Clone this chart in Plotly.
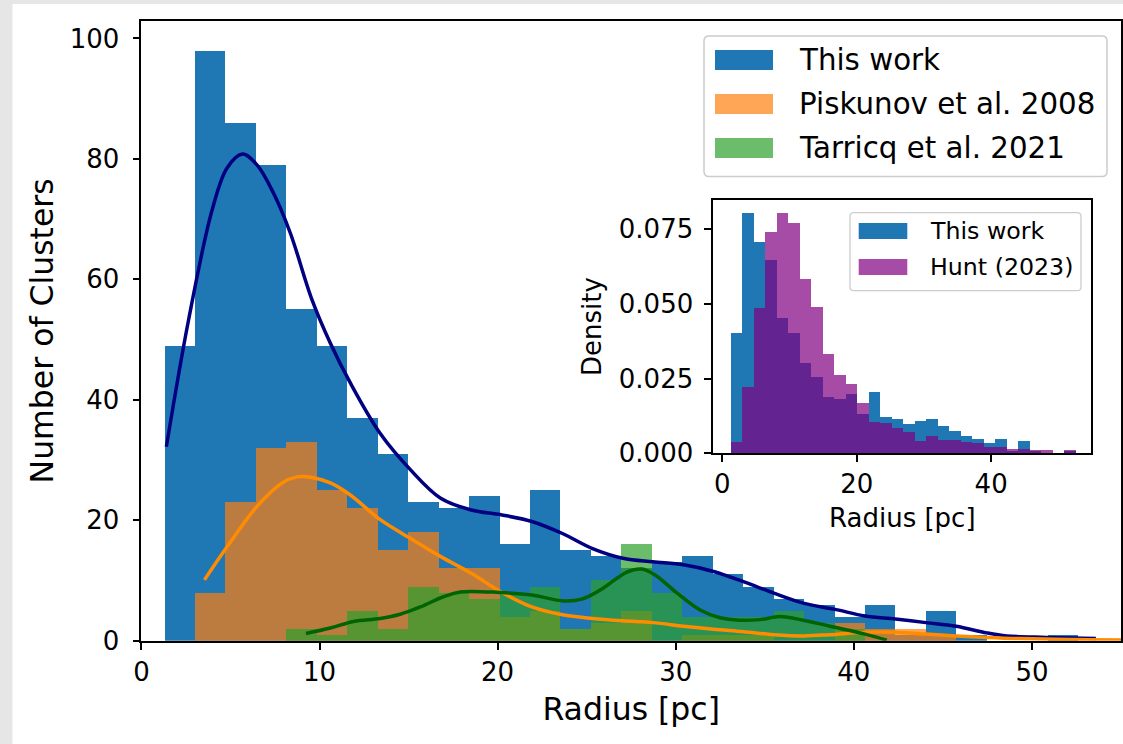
import numpy as np
import plotly.graph_objects as go

W, H = 1123, 744

# ---------------- data ----------------
bin_start = 1.32
bin_width = 1.71
n_bins = 30

this_work_counts = [49, 98, 86, 79, 55, 49, 37, 31, 23, 22, 24, 16, 25, 15, 14,
                    12, 13, 14, 11, 9, 7, 6, 4, 6, 1, 5, 1, 0, 0, 1]
piskunov_counts = [0, 8, 23, 32, 33, 25, 22, 15, 18, 12, 12, 4, 5, 2, 3,
                   5, 0, 1, 1, 1, 0, 0, 3, 2, 2, 1, 0, 0, 0, 0]
tarricq_counts = [0, 0, 0, 0, 2, 1, 5, 2, 9, 8, 7, 8, 9, 2, 10,
                  16, 8, 4, 4, 4, 5, 3, 2, 0, 0, 0, 0, 0, 0, 0]
hunt_density = [0.0037, 0.0221, 0.0487, 0.0739, 0.0802, 0.0769, 0.0583, 0.0488,
                0.0333, 0.0262, 0.0231, 0.0167, 0.0106, 0.0103, 0.0086, 0.0070,
                0.0042, 0.0058, 0.0045, 0.0045, 0.0038, 0.0036, 0.0020, 0.0020,
                0.0013, 0.0013, 0.0011, 0.0011, 0.0002, 0.0011]

kde_this_x = [1.40, 2.65, 3.97, 4.81, 5.68, 6.49, 7.42, 8.36, 9.58, 10.61, 11.73,
              13.41, 15.10, 16.78, 18.52, 20.19, 21.92, 23.64, 25.33, 27.03, 28.71,
              30.43, 32.12, 33.80, 35.51, 37.21, 38.95, 40.63, 42.33, 44.05, 45.75,
              47.46, 48.58, 50.82, 53.59]
kde_this_y = [32.2, 53.3, 71.5, 78.5, 80.8, 79.0, 74.3, 67.7, 56.6, 49.4, 42.8,
              34.4, 28.4, 23.7, 21.7, 20.9, 19.8, 17.8, 15.3, 13.7, 13.1,
              12.6, 11.5, 9.8, 7.9, 6.2, 5.2, 4.1, 3.6, 3.0, 2.4,
              1.3, 0.8, 0.55, 0.35]

kde_pisk_x = [3.54, 4.81, 6.49, 7.90, 8.74, 9.58, 10.61, 11.73, 13.41, 15.10, 16.78,
              18.52, 20.19, 21.92, 23.64, 25.33, 27.03, 28.71, 30.43, 32.12, 33.80,
              35.51, 37.21, 38.66, 40.63, 42.31, 44.05, 45.73, 47.47, 49.33, 52.13,
              55.1, 56.0]
kde_pisk_y = [10.1, 15.6, 22.3, 26.2, 27.2, 27.1, 26.2, 24.2, 20.1, 17.0, 14.0,
              11.2, 8.1, 5.6, 4.3, 3.7, 3.3, 3.0, 2.4, 1.9, 1.5,
              1.0, 0.8, 1.0, 1.4, 1.4, 1.1, 0.8, 0.55, 0.35, 0.22,
              0.1, 0.08]

kde_tarr_x = [9.24, 10.61, 11.91, 13.41, 14.53, 15.66, 16.96, 17.90, 20.15, 21.92,
              23.70, 24.73, 25.76, 27.26, 28.10, 28.84, 30.08, 31.37, 32.49, 33.61,
              34.74, 35.86, 37.17, 38.66, 40.63, 41.85]
kde_tarr_y = [1.2, 2.1, 3.2, 3.7, 4.4, 5.6, 7.3, 8.1, 8.0, 7.6,
              6.6, 6.9, 8.4, 11.4, 11.9, 10.9, 7.9, 5.1, 3.8, 3.4,
              3.5, 4.0, 3.4, 2.4, 1.1, 0.1]

x_ticks_main = [0, 10, 20, 30, 40, 50]
y_ticks_main = [0, 20, 40, 60, 80, 100]
x_ticks_inset = [0, 20, 40]
y_ticks_inset = [0.0, 0.025, 0.05, 0.075]

labels_main = ["This work", "Piskunov et al. 2008", "Tarricq et al. 2021"]
labels_inset = ["This work", "Hunt (2023)"]

# ---------------- derived ----------------
edges = bin_start + bin_width * np.arange(n_bins + 1)
centers = edges[:-1] + bin_width / 2
tw = np.array(this_work_counts, dtype=float)
this_work_density = tw / (tw.sum() * bin_width)

BLUE = "#1f77b4"
ORANGE_A = "rgba(255,127,14,0.7)"
GREEN_A = "rgba(44,160,44,0.7)"
PURPLE_A = "rgba(128,0,128,0.7)"
FONT = "DejaVu Sans"


def px(x):
    return x / W


def py(y):
    return 1 - y / H


fig = go.Figure()

bar_common = dict(width=bin_width, marker_line_width=0, showlegend=False)
fig.add_trace(go.Bar(x=centers, y=this_work_counts, name=labels_main[0],
                     marker_color=BLUE, xaxis="x", yaxis="y", **bar_common))
fig.add_trace(go.Bar(x=centers, y=piskunov_counts, name=labels_main[1],
                     marker_color=ORANGE_A, xaxis="x", yaxis="y", **bar_common))
fig.add_trace(go.Bar(x=centers, y=tarricq_counts, name=labels_main[2],
                     marker_color=GREEN_A, xaxis="x", yaxis="y", **bar_common))

line_common = dict(mode="lines", showlegend=False, xaxis="x", yaxis="y", cliponaxis=True)
fig.add_trace(go.Scatter(x=kde_this_x, y=kde_this_y, line=dict(color="#000080", width=3.5),
                         line_shape="spline", **line_common))
fig.add_trace(go.Scatter(x=kde_pisk_x, y=kde_pisk_y, line=dict(color="#ff8c00", width=3.5),
                         line_shape="spline", **line_common))
fig.add_trace(go.Scatter(x=kde_tarr_x, y=kde_tarr_y, line=dict(color="#006400", width=3.5),
                         line_shape="spline", **line_common))

# inset
fig.add_trace(go.Bar(x=centers, y=this_work_density, name=labels_inset[0],
                     marker_color=BLUE, xaxis="x2", yaxis="y2", **bar_common))
fig.add_trace(go.Bar(x=centers, y=hunt_density, name=labels_inset[1],
                     marker_color=PURPLE_A, xaxis="x2", yaxis="y2", **bar_common))

axis_common = dict(showline=True, linecolor="black", linewidth=1.7, mirror=True,
                   ticks="outside", ticklen=7, tickwidth=1.7, tickcolor="black",
                   showgrid=False, zeroline=False, automargin=False,
                   tickfont=dict(family=FONT, size=26, color="black"))

fig.update_layout(
    template="none",
    width=W, height=H,
    margin=dict(l=0, r=0, t=0, b=0, pad=0),
    paper_bgcolor="#e6e6e6",
    plot_bgcolor="rgba(0,0,0,0)",
    barmode="overlay",
    bargap=0,
    showlegend=False,
    xaxis=dict(domain=[px(141.4), px(1121)], range=[0, 55], anchor="y",
               tickvals=x_ticks_main,
               title=dict(text="Radius [pc]", font=dict(family=FONT, size=31.5, color="black"), standoff=12),
               **axis_common),
    yaxis=dict(domain=[py(640.7), py(21)], range=[0, 102.9], anchor="x",
               tickvals=y_ticks_main, ticklabelstandoff=8,
               title=dict(text="Number of Clusters", font=dict(family=FONT, size=31.5, color="black"), standoff=7),
               **axis_common),
    xaxis2=dict(domain=[px(713.3), px(1091.3)], range=[-1.34, 54.9], anchor="y2",
                tickvals=x_ticks_inset,
                title=dict(text="Radius [pc]", font=dict(family=FONT, size=26, color="black"), standoff=10),
                **axis_common),
    yaxis2=dict(domain=[py(453.3), py(200)], range=[0, 0.0847], anchor="x2",
                tickvals=y_ticks_inset, tickformat=".3f", ticklabelstandoff=6,
                title=dict(text="Density", font=dict(family=FONT, size=26, color="black"), standoff=10),
                **axis_common),
)

shapes = []
# white figure area over the grey frame
shapes.append(dict(type="rect", xref="paper", yref="paper", x0=px(12.5), x1=px(1123),
                   y0=py(744), y1=py(4), fillcolor="white", line_width=0, layer="below"))


def rounded_box(x0, y0, x1, y1, r=5):
    rx, ry = r / W, r / H
    a, b, c, d = px(x0), py(y0), px(x1), py(y1)
    return (f"M {a+rx},{b} L {c-rx},{b} Q {c},{b} {c},{b-ry} L {c},{d+ry} Q {c},{d} {c-rx},{d} "
            f"L {a+rx},{d} Q {a},{d} {a},{d+ry} L {a},{b-ry} Q {a},{b} {a+rx},{b} Z")


annotations = []
# main legend
shapes.append(dict(type="path", xref="paper", yref="paper", path=rounded_box(704, 36, 1107, 176.5),
                   fillcolor="rgba(255,255,255,0.8)", line=dict(color="#cccccc", width=1.5), layer="above"))
main_cols = [BLUE, ORANGE_A, GREEN_A]
main_rows = [60, 104, 148]
for lab, col, yc in zip(labels_main, main_cols, main_rows):
    shapes.append(dict(type="rect", xref="paper", yref="paper", x0=px(715), x1=px(773),
                       y0=py(yc + 10), y1=py(yc - 10), fillcolor=col, line_width=0, layer="above"))
    annotations.append(dict(xref="paper", yref="paper", x=px(797), y=py(yc), text=lab,
                            xanchor="left", yanchor="middle", showarrow=False,
                            font=dict(family=FONT, size=29.3, color="black")))

# inset legend
shapes.append(dict(type="path", xref="paper", yref="paper", path=rounded_box(850, 212.7, 1081, 290.7, 4),
                   fillcolor="rgba(255,255,255,0.8)", line=dict(color="#cccccc", width=1.3), layer="above"))
inset_cols = [BLUE, PURPLE_A]
inset_rows = [231, 267]
for lab, col, yc in zip(labels_inset, inset_cols, inset_rows):
    shapes.append(dict(type="rect", xref="paper", yref="paper", x0=px(858.7), x1=px(907.3),
                       y0=py(yc + 8), y1=py(yc - 8), fillcolor=col, line_width=0, layer="above"))
    annotations.append(dict(xref="paper", yref="paper", x=px(927.5), y=py(yc), text=lab,
                            xanchor="left", yanchor="middle", showarrow=False,
                            font=dict(family=FONT, size=23.7, color="black")))

fig.update_layout(shapes=shapes, annotations=annotations)
fig.write_html("out.html")
